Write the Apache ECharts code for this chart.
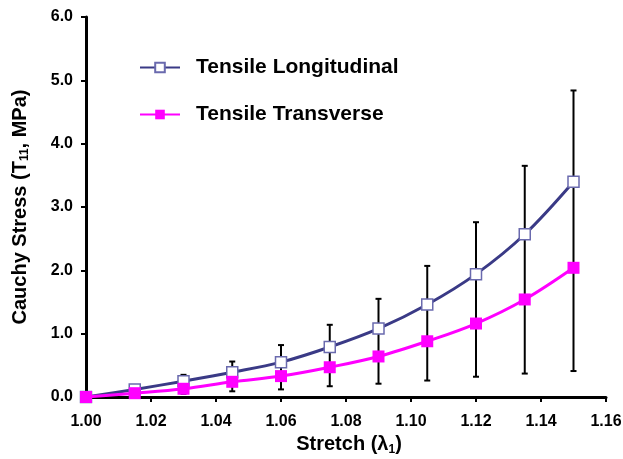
<!DOCTYPE html>
<html><head><meta charset="utf-8">
<script src="https://cdn.jsdelivr.net/npm/echarts@6/dist/echarts.min.js"></script>
<style>html,body{margin:0;padding:0;background:#fff}#c{width:623px;height:459px}</style>
</head><body><div id="c"></div>
<script>
const stretch = [1.00, 1.015, 1.03, 1.045, 1.06, 1.075, 1.09, 1.105, 1.12, 1.135, 1.15];
const longitudinal = [0, 0.12, 0.25, 0.39, 0.55, 0.79, 1.08, 1.46, 1.94, 2.57, 3.40];
const transverse = [0, 0.06, 0.13, 0.24, 0.33, 0.47, 0.64, 0.88, 1.16, 1.54, 2.04];
const errTop = [0, 0.17, 0.35, 0.56, 0.82, 1.14, 1.55, 2.07, 2.76, 3.65, 4.84];
const errBottom = [0, 0.02, 0.05, 0.09, 0.12, 0.17, 0.21, 0.26, 0.32, 0.37, 0.41];
const xTicks = {min: 1.00, max: 1.16, step: 0.02};
const yTicks = {min: 0, max: 6, step: 1};

const font = 'Arial, "Liberation Sans", sans-serif';
const chart = echarts.init(document.getElementById('c'));
const errData = stretch.map((x, i) => [x, errBottom[i], errTop[i]]).filter(d => d[0] > 1.0);

chart.setOption({
  animation: false,
  grid: {left: 86, right: 17, top: 17, bottom: 62, containLabel: false, outerBoundsMode: 'none'},
  legend: {
    orient: 'vertical', left: 134, top: 52, itemGap: 26,
    itemWidth: 40, itemHeight: 12,
    textStyle: {fontFamily: font, fontWeight: 'bold', fontSize: 21, color: '#000', padding: [0,0,0,11]},
    data: ['Tensile Longitudinal', 'Tensile Transverse']
  },
  xAxis: {
    type: 'value', min: xTicks.min, max: xTicks.max, interval: xTicks.step,
    name: 'Stretch (λ{sub|1})', nameLocation: 'middle', nameGap: 31,
    nameTextStyle: {fontFamily: font, fontWeight: 'bold', fontSize: 20, color: '#000', padding: [0, 0, 0, 6],
      rich: {sub: {fontFamily: font, fontWeight: 'bold', fontSize: 12, color: '#000', verticalAlign: 'bottom', padding: [9,0,0,0]}}},
    axisLine: {lineStyle: {color: '#000', width: 3}},
    axisTick: {show: true, inside: false, length: 5, lineStyle: {color: '#000', width: 2}},
    splitLine: {show: false},
    axisLabel: {fontFamily: font, fontWeight: 'bold', fontSize: 16, color: '#000', margin: 17,
      formatter: v => v.toFixed(2)}
  },
  yAxis: {
    type: 'value', min: yTicks.min, max: yTicks.max, interval: yTicks.step,
    name: 'Cauchy Stress (T{sub|11}, MPa)', nameLocation: 'middle', nameGap: 55, nameRotate: 90,
    nameTextStyle: {fontFamily: font, fontWeight: 'bold', fontSize: 20, color: '#000',
      rich: {sub: {fontFamily: font, fontWeight: 'bold', fontSize: 12, color: '#000', verticalAlign: 'bottom', padding: [9,0,0,0]}}},
    axisLine: {show: true, lineStyle: {color: '#000', width: 3}},
    axisTick: {show: true, inside: false, length: 5, lineStyle: {color: '#000', width: 2}},
    splitLine: {show: false},
    axisLabel: {fontFamily: font, fontWeight: 'bold', fontSize: 16, color: '#000', margin: 13,
      formatter: v => v.toFixed(1)}
  },
  series: [
    {
      type: 'custom', name: 'err', z: 1, silent: true,
      data: errData,
      renderItem: (params, api) => {
        const x = api.value(0);
        const lo = api.coord([x, api.value(1)]);
        const hi = api.coord([x, api.value(2)]);
        const w = 3;
        const style = {stroke: '#000', lineWidth: 2};
        return {type: 'group', children: [
          {type: 'line', shape: {x1: lo[0], y1: lo[1], x2: hi[0], y2: hi[1]}, style},
          {type: 'line', shape: {x1: lo[0]-w, y1: lo[1], x2: lo[0]+w, y2: lo[1]}, style},
          {type: 'line', shape: {x1: hi[0]-w, y1: hi[1], x2: hi[0]+w, y2: hi[1]}, style}
        ]};
      }
    },
    {
      type: 'line', name: 'Tensile Longitudinal', z: 3,
      data: stretch.map((x, i) => [x, longitudinal[i]]),
      smooth: 0.35, symbol: 'rect', symbolSize: 11,
      lineStyle: {color: '#3a3a86', width: 3},
      itemStyle: {color: '#fff', borderColor: '#6a6aae', borderWidth: 1.5}
    },
    {
      type: 'line', name: 'Tensile Transverse', z: 4,
      data: stretch.map((x, i) => [x, transverse[i]]),
      smooth: 0.35, symbol: 'rect', symbolSize: 12,
      lineStyle: {color: '#ff00ff', width: 3},
      itemStyle: {color: '#ff00ff', borderColor: '#ff00ff', borderWidth: 0}
    }
  ]
});
</script></body></html>
